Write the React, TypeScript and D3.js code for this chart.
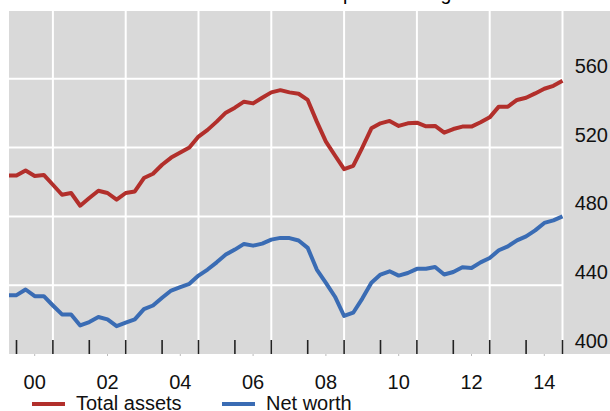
import React from "react";
import * as d3 from "d3";

const quarters: string[] = [
  "1999Q3","1999Q4",
  "2000Q1","2000Q2","2000Q3","2000Q4",
  "2001Q1","2001Q2","2001Q3","2001Q4",
  "2002Q1","2002Q2","2002Q3","2002Q4",
  "2003Q1","2003Q2","2003Q3","2003Q4",
  "2004Q1","2004Q2","2004Q3","2004Q4",
  "2005Q1","2005Q2","2005Q3","2005Q4",
  "2006Q1","2006Q2","2006Q3","2006Q4",
  "2007Q1","2007Q2","2007Q3","2007Q4",
  "2008Q1","2008Q2","2008Q3","2008Q4",
  "2009Q1","2009Q2","2009Q3","2009Q4",
  "2010Q1","2010Q2","2010Q3","2010Q4",
  "2011Q1","2011Q2","2011Q3","2011Q4",
  "2012Q1","2012Q2","2012Q3","2012Q4",
  "2013Q1","2013Q2","2013Q3","2013Q4",
  "2014Q1","2014Q2","2014Q3","2014Q4",
];

const totalAssets: number[] = [
  503.8, 503.8,
  506.7, 503.5, 504.1, 498.4,
  492.6, 493.6, 486.2, 490.7,
  494.9, 493.6, 489.7, 493.6,
  494.5, 502.3, 504.8, 510.0,
  514.2, 517.1, 520.0, 526.4,
  530.3, 535.1, 540.3, 543.2,
  546.7, 545.7, 549.0, 552.1,
  553.4, 552.1, 551.3, 547.7,
  535.1, 523.5, 515.4, 507.5,
  509.4, 520.0, 531.2, 534.1,
  535.5, 532.6, 534.1, 534.5,
  532.4, 532.6, 528.7, 530.8,
  532.2, 532.2, 534.7, 537.6,
  543.8, 543.8, 547.7, 549.0,
  551.5, 554.2, 555.9, 558.8,
];

const netWorth: number[] = [
  434.2, 434.2,
  437.5, 433.6, 433.6, 428.2,
  423.0, 423.0, 416.6, 418.6,
  421.5, 420.1, 416.2, 418.2,
  420.1, 426.1, 428.2, 432.7,
  436.9, 438.9, 440.8, 445.6,
  449.1, 453.3, 457.8, 460.7,
  464.0, 463.0, 464.2, 466.5,
  467.5, 467.4, 466.0, 461.7,
  449.1, 441.4, 433.3, 422.1,
  424.0, 432.2, 441.4, 446.2,
  448.1, 445.6, 447.1, 449.5,
  449.6, 450.6, 446.2, 447.7,
  450.4, 450.0, 453.3, 455.8,
  460.3, 462.6, 466.1, 468.4,
  471.9, 476.2, 477.7, 480.0,
];

const yTicks: number[] = [400, 440, 480, 520, 560];
const xLabelYears: number[] = [2000, 2002, 2004, 2006, 2008, 2010, 2012, 2014];
const yearTicks: number[] = d3.range(2000, 2016);
const gridYears: number[] = [2001, 2003, 2005, 2007, 2009, 2011, 2013, 2015];

const series = [
  { name: "Total assets", values: totalAssets, color: "#b22f2b" },
  { name: "Net worth", values: netWorth, color: "#3a6cb4" },
];

// quarter-end time as decimal year
const qTime = (q: string) => +q.slice(0, 4) + +q.slice(5) / 4;

const W = 610, H = 411;
const plotL = 9, plotR = 562.5, plotT = 11, plotB = 354;

export default function App() {
  const x = d3.scaleLinear().domain([2000, 2015]).range([16.5, 562.5]);
  const y = d3.scaleLinear().domain([400, 600]).range([plotB, plotB - 344]);
  const font = "Arial, 'Liberation Sans', sans-serif";

  const line = d3
    .line<number>()
    .x((_, i) => x(qTime(quarters[i])))
    .y((d) => y(d));

  return (
    <svg
      width={W}
      height={H}
      style={{ position: "absolute", left: 0, top: 0, background: "#fff" }}
      fontFamily={font}
    >
      <defs>
        <clipPath id="plotclip">
          <rect x={plotL} y={plotT} width={plotR - plotL + 4} height={plotB - plotT} />
        </clipPath>
      </defs>
      <text x={339} y={0.3} fontSize={19.5} textAnchor="end" fill="#000">
        Household assets and net worth in
      </text>
      <text x={343} y={0.3} fontSize={19.5} textAnchor="start" fill="#000">
        per cent of gross income
      </text>
      <rect x={plotL} y={plotT} width={W - plotL} height={plotB - plotT} fill="#d9d9d9" />
      {yTicks
        .filter((v) => v > 400)
        .map((v) => (
          <line key={v} x1={plotL} x2={plotR} y1={y(v)} y2={y(v)} stroke="#fff" strokeWidth={2} />
        ))}
      {gridYears.map((yr) => (
        <line key={yr} x1={x(yr)} x2={x(yr)} y1={plotT} y2={plotB} stroke="#fff" strokeWidth={2} />
      ))}
      {yearTicks.map((yr) => (
        <line key={yr} x1={x(yr)} x2={x(yr)} y1={plotB - 14} y2={plotB} stroke="#222" strokeWidth={1.6} />
      ))}
      {xLabelYears.map((yr) => (
        <line key={"m" + yr} x1={x(yr + 0.5)} x2={x(yr + 0.5)} y1={plotB} y2={plotB + 2} stroke="#bbb" strokeWidth={1} />
      ))}
      <g clipPath="url(#plotclip)">
        {series.map((s) => (
          <path
            key={s.name}
            d={line(s.values) || ""}
            fill="none"
            stroke={s.color}
            strokeWidth={4}
            strokeLinejoin="round"
          />
        ))}
      </g>
      {yTicks.map((v) => (
        <text key={v} x={608} y={y(v) - 6} fontSize={20} textAnchor="end" fill="#111">
          {v}
        </text>
      ))}
      {xLabelYears.map((yr) => (
        <text key={yr} x={x(yr + 0.5)} y={389} fontSize={20} textAnchor="middle" fill="#111">
          {String(yr).slice(2)}
        </text>
      ))}
      {series.map((s, i) => {
        const lx = i === 0 ? 32 : 222;
        return (
          <g key={s.name}>
            <line x1={lx} x2={lx + 33} y1={404} y2={404} stroke={s.color} strokeWidth={4} />
            <text x={lx + 44} y={410} fontSize={20} fill="#111">
              {s.name}
            </text>
          </g>
        );
      })}
    </svg>
  );
}
